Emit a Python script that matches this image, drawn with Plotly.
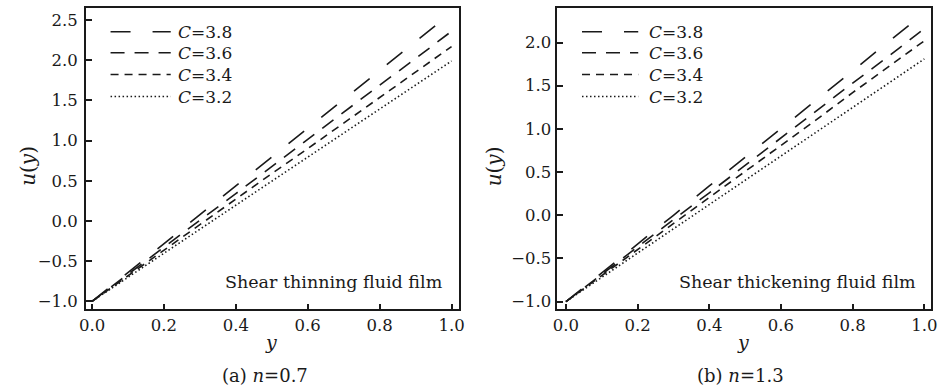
import plotly.graph_objects as go

W, H = 948, 389

# data
y_vals = [0.0, 0.1, 0.2, 0.3, 0.4, 0.5, 0.6, 0.7, 0.8, 0.9, 1.0]
c_labels = ["3.8", "3.6", "3.4", "3.2"]

thin_38 = [-1.00, -0.64, -0.28, 0.08, 0.44, 0.80, 1.15, 1.51, 1.87, 2.23, 2.59]
thin_36 = [-1.00, -0.66, -0.33, 0.01, 0.34, 0.68, 1.02, 1.35, 1.69, 2.02, 2.36]
thin_34 = [-1.00, -0.68, -0.37, -0.05, 0.27, 0.59, 0.90, 1.22, 1.54, 1.85, 2.17]
thin_32 = [-1.00, -0.70, -0.40, -0.10, 0.20, 0.50, 0.79, 1.09, 1.39, 1.69, 1.99]

thick_38 = [-1.00, -0.67, -0.33, 0.00, 0.34, 0.67, 1.00, 1.34, 1.67, 2.01, 2.34]
thick_36 = [-1.00, -0.68, -0.37, -0.05, 0.26, 0.58, 0.90, 1.21, 1.53, 1.84, 2.16]
thick_34 = [-1.00, -0.70, -0.40, -0.09, 0.21, 0.51, 0.81, 1.11, 1.42, 1.72, 2.02]
thick_32 = [-1.00, -0.72, -0.44, -0.16, 0.12, 0.41, 0.69, 0.97, 1.25, 1.53, 1.81]

x_ticks = [0.0, 0.2, 0.4, 0.6, 0.8, 1.0]
y_ticks_a = [-1.0, -0.5, 0.0, 0.5, 1.0, 1.5, 2.0, 2.5]
y_ticks_b = [-1.0, -0.5, 0.0, 0.5, 1.0, 1.5, 2.0]

dashes = ["20px,22px", "14px,10px", "8px,6px", "1.5px,2.5px"]
INK = "#1a1a1a"
FONT = "DejaVu Serif"

def px(x):
    return x / W

def py(y):
    return 1 - y / H

fig = go.Figure()

series_a = [thin_38, thin_36, thin_34, thin_32]
series_b = [thick_38, thick_36, thick_34, thick_32]

for s, d in zip(series_a, dashes):
    fig.add_trace(go.Scatter(x=y_vals, y=s, mode="lines", xaxis="x", yaxis="y",
                             line=dict(color=INK, width=1.6, dash=d), showlegend=False))
for s, d in zip(series_b, dashes):
    fig.add_trace(go.Scatter(x=y_vals, y=s, mode="lines", xaxis="x2", yaxis="y2",
                             line=dict(color=INK, width=1.6, dash=d), showlegend=False))

axis_common = dict(showgrid=False, zeroline=False, showline=True, linecolor=INK, linewidth=1.5,
                   mirror=True, ticks="inside", ticklen=6, tickwidth=1.5, tickcolor=INK,
                   tickfont=dict(family=FONT, size=16.5, color=INK))

ydom = [py(311), py(8)]
fig.update_layout(
    width=W, height=H, margin=dict(l=0, r=0, t=0, b=0),
    paper_bgcolor="white", plot_bgcolor="white",
    xaxis=dict(domain=[px(80), px(458)], range=[-0.017, 1.02], tickvals=x_ticks,
               ticktext=[f"{v:.1f}" for v in x_ticks], anchor="y", **axis_common),
    yaxis=dict(domain=ydom, range=[-1.10, 2.65], tickvals=y_ticks_a, ticklabelstandoff=3,
               ticktext=[f"{v:.1f}".replace("-", "\u2212") for v in y_ticks_a], anchor="x", **axis_common),
    xaxis2=dict(domain=[px(558), px(937)], range=[-0.024, 1.019], tickvals=x_ticks,
                ticktext=[f"{v:.1f}" for v in x_ticks], anchor="y2", **axis_common),
    yaxis2=dict(domain=ydom, range=[-1.09, 2.40], tickvals=y_ticks_b, ticklabelstandoff=1,
                ticktext=[f"{v:.1f}".replace("-", "\u2212") for v in y_ticks_b], anchor="x2", **axis_common),
)

annotations = []
shapes = []

def txt(x, y, text, size=16, xanchor="center", angle=0):
    annotations.append(dict(x=px(x), y=py(y), xref="paper", yref="paper", text=text,
                            showarrow=False, xanchor=xanchor, yanchor="middle", textangle=angle,
                            font=dict(family=FONT, size=size, color=INK)))

# axis titles
txt(21, 167, "<i>u</i>(<i>y</i>)", size=20, angle=-90)
txt(494, 167, "<i>u</i>(<i>y</i>)", size=20, angle=-90)
txt(268, 344, "<i>y</i>", size=19)
txt(746, 344, "<i>y</i>", size=19)
# captions
txt(262, 377, "(a) <i>n</i>=0.7", size=18)
txt(744, 377, "(b) <i>n</i>=1.3", size=18)
# panel notes
txt(444, 283, "Shear thinning fluid film", size=17.5, xanchor="right")
txt(924, 283, "Shear thickening fluid film", size=17.5, xanchor="right")

# manual legends
rows = [32, 53, 75, 97]
for (lx0, lx1, tx) in [(105, 166, 171), (583, 640, 649)]:
    for r, lab, d in zip(rows, c_labels, dashes):
        shapes.append(dict(type="line", xref="paper", yref="paper",
                           x0=px(lx0), x1=px(lx1), y0=py(r), y1=py(r),
                           line=dict(color=INK, width=1.5, dash=d)))
        txt(tx, r, f"<i>C</i>=" + lab, size=17, xanchor="left")

fig.update_layout(annotations=annotations, shapes=shapes)
fig.write_html("out.html")
